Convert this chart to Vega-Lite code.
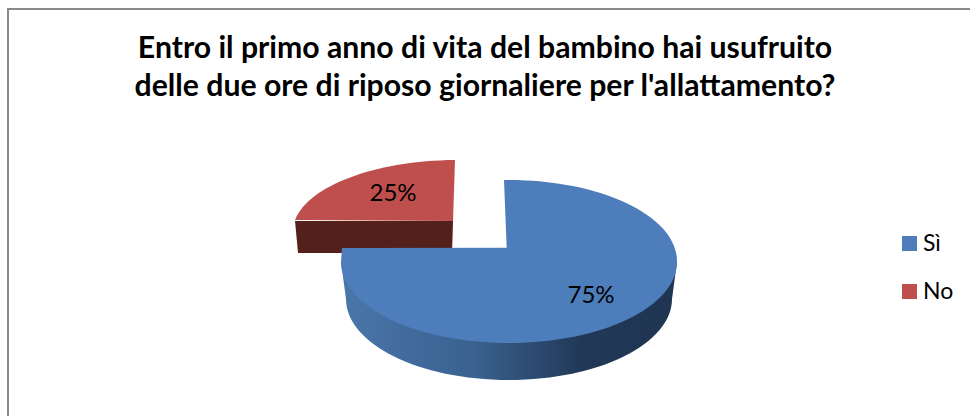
{"$schema":"https://vega.github.io/schema/vega-lite/v6.json","autosize":{"type":"none"},"padding":{"left":8,"top":9,"right":0,"bottom":0},"width":970,"height":420,"background":"white","view":{"stroke":"#8a8a8a","strokeWidth":2,"fill":"white"},"title":{"text":["Entro il primo anno di vita del bambino hai usufruito","delle due ore di riposo giornaliere per l'allattamento?"],"font":"Lato","fontWeight":"bold","fontSize":30.2,"lineHeight":38,"color":"#000000","anchor":"middle","dx":-8,"dy":93,"offset":0},"data":{"values":[{"risposta":"Sì","quota":0.75},{"risposta":"No","quota":0.25}]},"layer":[{"transform":[{"filter":"datum.risposta==='No'"}],"mark":{"type":"point","filled":true,"opacity":1,"size":4,"fill":"#53201c","stroke":null,"shape":"M-198,2 L-195,34 L-41,34 L-40,2 Z"},"encoding":{}},{"transform":[{"filter":"datum.risposta==='Sì'"}],"mark":{"type":"point","filled":true,"opacity":1,"size":4,"stroke":null,"fill":{"gradient":"linear","x1":0,"y1":0,"x2":1,"y2":0,"stops":[{"offset":0,"color":"#4a76aa"},{"offset":0.4,"color":"#3a618f"},{"offset":0.72,"color":"#213856"},{"offset":1,"color":"#1f3552"}]},"shape":"M-152,43 L-147,80 A163,81 0 0 0 179,80 L184,43 Z"},"encoding":{}},{"transform":[{"filter":"datum.risposta==='No'"}],"mark":{"type":"point","filled":true,"opacity":1,"size":4,"stroke":null,"shape":"M-40,2 L-38,-59 A165,72 0 0 0 -198,1 Z"},"encoding":{"color":{"field":"risposta","type":"nominal","sort":["Sì","No"],"scale":{"domain":["Sì","No"],"range":["#4d7ebb","#be4f4c"]},"legend":{"title":null,"orient":"none","legendX":890,"legendY":223,"symbolType":"square","symbolSize":225,"symbolStrokeWidth":0,"labelFont":"Lato","labelFontSize":23,"labelColor":"#000000","labelOffset":2,"rowPadding":24,"symbolOpacity":1}}}},{"transform":[{"filter":"datum.risposta==='Sì'"}],"mark":{"type":"point","filled":true,"opacity":1,"size":4,"stroke":null,"shape":"M13.7,28.7 L11,-39 A168,81 0 0 1 184,43 A168,81 0 0 1 16,124 A168,81 0 0 1 -152,43 L-151,29 Z"},"encoding":{"color":{"field":"risposta","type":"nominal","sort":["Sì","No"],"scale":{"domain":["Sì","No"],"range":["#4d7ebb","#be4f4c"]}}}},{"transform":[{"filter":"datum.risposta==='Sì'"}],"mark":{"type":"text","font":"Lato","fontSize":24,"color":"#000000","dx":98,"dy":77},"encoding":{"text":{"field":"quota","type":"quantitative","format":".0%"}}},{"transform":[{"filter":"datum.risposta==='No'"}],"mark":{"type":"text","font":"Lato","fontSize":24,"color":"#000000","dx":-100,"dy":-25},"encoding":{"text":{"field":"quota","type":"quantitative","format":".0%"}}}]}
